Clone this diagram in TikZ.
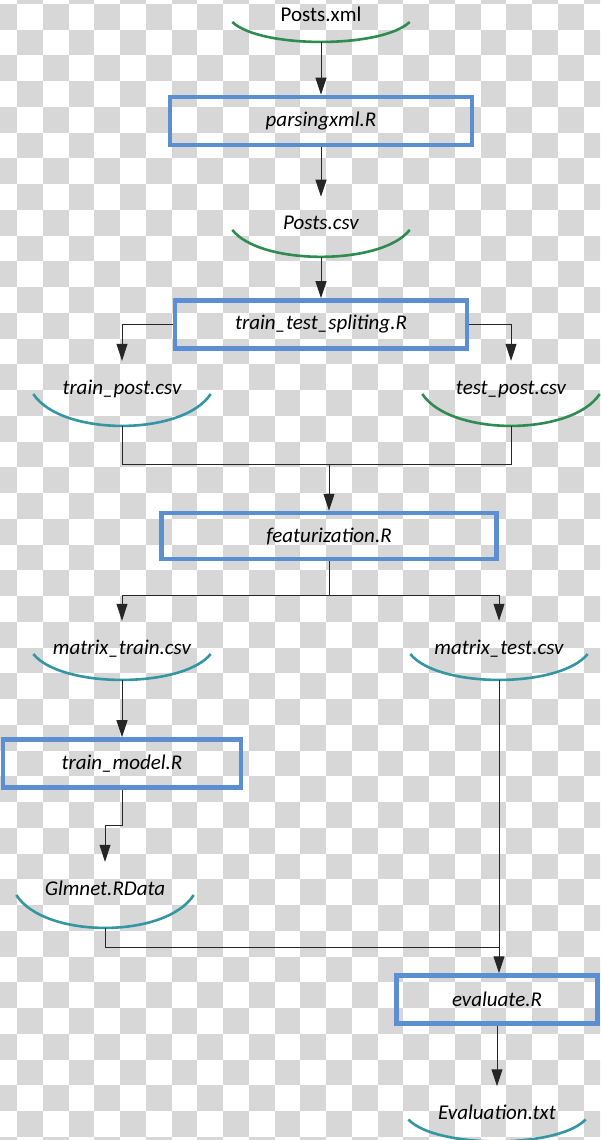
\documentclass[tikz,border=0pt]{standalone}
\usepackage{fontspec}
\setmainfont{Carlito}
\usetikzlibrary{arrows.meta,positioning,calc}
\definecolor{boxblue}{RGB}{92,142,210}
\definecolor{filegreen}{RGB}{46,140,80}
\definecolor{fileteal}{RGB}{52,150,160}
\definecolor{checker}{RGB}{215,215,215}
\tikzset{
  box/.style={
    draw=boxblue,
    line width=4.5pt,
    align=center,
    minimum height=48pt,
    inner sep=4pt,
    font=\fontsize{21}{25}\selectfont\itshape
  },
  file/.style 2 args={
    inner sep=0pt,
    minimum width=177pt,
    text height=33pt,
    text depth=#1,
    anchor=base,
    font=\fontsize{21}{25}\selectfont\itshape,
    append after command={
      (\tikzlastnode.base west) edge[draw=#2, line width=2.6pt,
        to path={.. controls +(28pt,{-1.33*#1}) and +(-28pt,{-1.33*#1}) .. (\tikztotarget)}]
      (\tikzlastnode.base east)
    }
  },
  link/.style={draw=black!85, line width=1pt},
  arrow/.style={link, -{Triangle[length=17pt, width=11pt]}}
}
\begin{document}
\begin{tikzpicture}[x=1pt, y=-1pt]

\useasboundingbox (0,0) rectangle (600,1140);

% Checkerboard background
\begin{scope}
  \clip (0,0) rectangle (600,1140);
  \fill[white] (0,0) rectangle (600,1140);
  \foreach \i in {0,...,23}{
    \foreach \j in {-1,...,44}{
      \ifodd\numexpr\i+\j+2\relax\else
        \fill[checker] ({-8.6+25.75*\i},{3.8+25.75*\j}) rectangle +(25.75,25.75);
      \fi
    }
  }
\end{scope}

\node[file={20pt}{filegreen}, font=\fontsize{21}{25}\selectfont] (postsxml) at (321,22) {Posts.xml};
\node[box, minimum width=302pt, below=52.5pt of postsxml] (parse) {parsingxml.R};
\node[file={27pt}{filegreen}, below=49.5pt of parse] (postscsv) {Posts.csv};
\node[box, minimum width=292pt, below=41pt of postscsv] (split) {train\_test\_spliting.R};

% Split outputs
\node[file={32pt}{fileteal}] (trainpost) at (122,394) {train\_post.csv};
\node[file={32pt}{filegreen}] (testpost) at (511,394) {test\_post.csv};

\node[box, minimum width=335pt, minimum height=46pt] (feat) at (329,536) {featurization.R};
\node[file={26pt}{fileteal}] (mtrain) at (122,654) {matrix\_train.csv};
\node[file={26pt}{fileteal}] (mtest) at (499,654) {matrix\_test.csv};

% Model and evaluation
\node[box, minimum width=238pt, below=57pt of mtrain] (model) {train\_model.R};
\node[file={33pt}{fileteal}] (glmnet) at (105,895) {Glmnet.RData};
\node[box, minimum width=201pt] (evaluate) at (497,999.5) {evaluate.R};
\node[file={22pt}{fileteal}, below=60.5pt of evaluate] (evaltxt) {Evaluation.txt};

% Arrows main flow
\draw[arrow] (postsxml.south) -- (parse.north);
\draw[arrow] (parse.south) -- (postscsv.north);
\draw[arrow] (postscsv.south) -- (split.north);
\draw[arrow] (split.west) -| (trainpost.north);
\draw[arrow] (split.east) -| (testpost.north);

% Merge and fork around featurization
\coordinate (merge) at ($(feat.north)+(0,-46)$);
\coordinate (fork) at ($(feat.south)+(0,34)$);
\draw[link] (trainpost.south) |- (merge) -| (testpost.south);
\draw[arrow] (merge) -- (feat.north);
\draw[link] (feat.south) -- (fork);
\draw[arrow] (fork) -| (mtrain.north);
\draw[arrow] (fork) -| (mtest.north);

% Training and evaluation arrows
\draw[arrow] (mtrain.south) -- (model.north);
\draw[arrow] (model.south) |- ($(model.south)!0.5!(glmnet.north)$) -| (glmnet.north);
\coordinate (meet) at ($(mtest.south |- evaluate.north)+(0,-26)$);
\draw[arrow] (mtest.south) -- (mtest.south |- evaluate.north);
\draw[link] (glmnet.south) |- (meet);
\draw[arrow] (evaluate.south) -- (evaltxt.north);

\end{tikzpicture}
\end{document}
